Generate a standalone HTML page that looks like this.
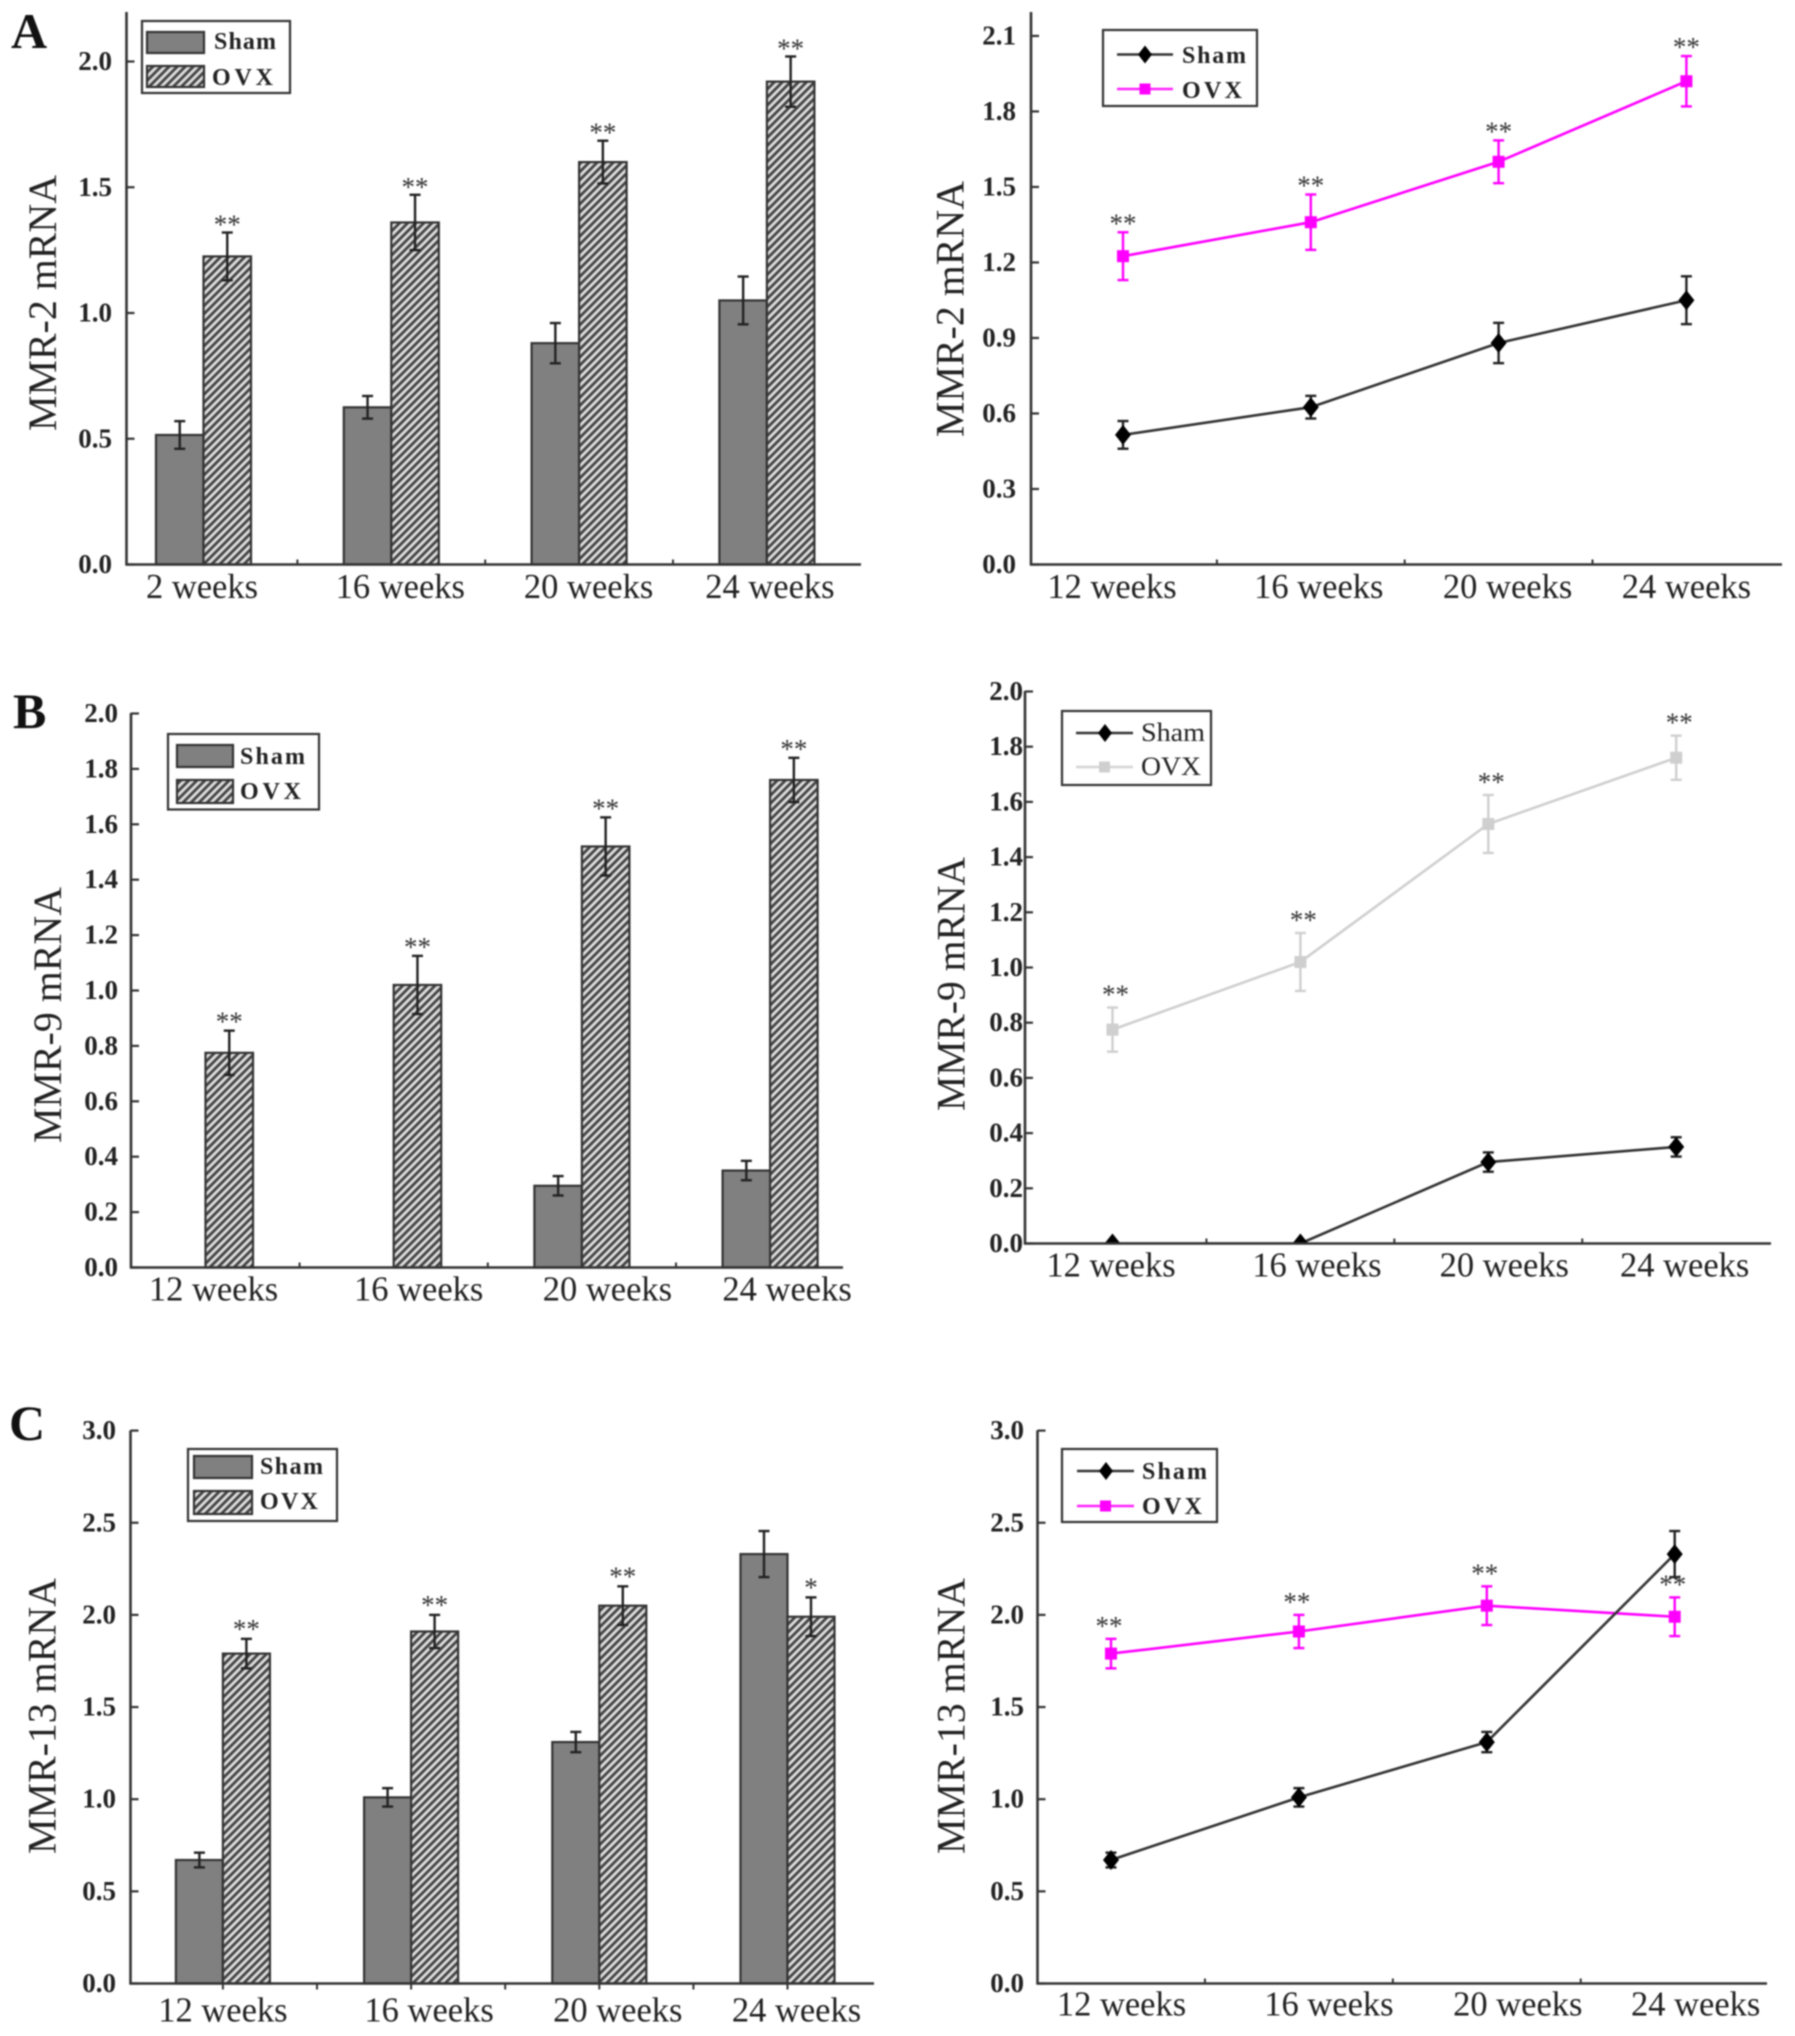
<!DOCTYPE html>
<html lang="en">
<head>
<meta charset="utf-8">
<title>MMR mRNA expression charts</title>
<style>
  html,body{margin:0;padding:0;background:#fff;}
  svg{display:block;filter:blur(0.8px);}
  text{font-family:"Liberation Serif",serif;fill:#222;}
  .panel-letter{font-size:50px;font-weight:bold;fill:#111;}
  .y-title{font-size:40px;text-anchor:middle;fill:#222;}
  .leg{font-size:24px;font-weight:bold;}
  .leg-light{font-size:26px;}
  .tick{font-size:27px;font-weight:bold;text-anchor:end;}
  .cat{font-size:34.5px;text-anchor:middle;}
  .star{font-size:27px;text-anchor:middle;fill:#333;}
</style>
</head>
<body>
<svg id="fig" xmlns="http://www.w3.org/2000/svg" width="1795" height="2036" viewBox="0 0 1795 2036">
  <defs>
    <pattern id="hatch" patternUnits="userSpaceOnUse" width="5.7" height="5.7" patternTransform="rotate(45)">
      <rect width="5.7" height="5.7" fill="#dcdcdc"/>
      <rect width="2.8" height="5.7" fill="#444"/>
    </pattern>
  </defs>
  <rect width="1795" height="2036" fill="#fff"/>

  <text class="panel-letter" x="11" y="48">A</text>
  <text class="panel-letter" x="13" y="728">B</text>
  <text class="panel-letter" x="9" y="1440">C</text>

  <text class="y-title" transform="translate(56,303) rotate(-90)" textLength="256" lengthAdjust="spacingAndGlyphs">MMR-2 mRNA</text>
  <text class="y-title" transform="translate(963.5,309) rotate(-90)" textLength="256" lengthAdjust="spacingAndGlyphs">MMR-2 mRNA</text>
  <text class="y-title" transform="translate(61,1015) rotate(-90)" textLength="256" lengthAdjust="spacingAndGlyphs">MMR-9 mRNA</text>
  <text class="y-title" transform="translate(964.6,984) rotate(-90)" textLength="254" lengthAdjust="spacingAndGlyphs">MMR-9 mRNA</text>
  <text class="y-title" transform="translate(55.7,1716) rotate(-90)" textLength="276" lengthAdjust="spacingAndGlyphs">MMR-13 mRNA</text>
  <text class="y-title" transform="translate(964.6,1716) rotate(-90)" textLength="276" lengthAdjust="spacingAndGlyphs">MMR-13 mRNA</text>

  <g id="panel-a-bar"></g>
  <g id="panel-a-line"></g>
  <g id="panel-b-bar"></g>
  <g id="panel-b-line"></g>
  <g id="panel-c-bar"></g>
  <g id="panel-c-line"></g>

  <!-- Legend A bar -->
  <g>
    <rect x="142" y="21" width="148" height="72" fill="#fff" stroke="#333" stroke-width="2.2"/>
    <rect x="147" y="32" width="57" height="21" fill="#808080" stroke="#333" stroke-width="2.2"/>
    <text class="leg" x="214" y="49" textLength="62" lengthAdjust="spacing">Sham</text>
    <rect x="147" y="66" width="57" height="21" fill="url(#hatch)" stroke="#333" stroke-width="2.2"/>
    <text class="leg" x="212" y="85" textLength="61" lengthAdjust="spacing">OVX</text>
  </g>
  <!-- Legend A line -->
  <g>
    <rect x="1103" y="30" width="154" height="76" fill="#fff" stroke="#333" stroke-width="2.2"/>
    <line x1="1117" x2="1173" y1="54.5" y2="54.5" stroke="#333" stroke-width="2.5"/>
    <polygon points="1145,45.5 1152,54.5 1145,63.5 1138,54.5" fill="#000"/>
    <text class="leg" x="1182" y="63" textLength="64" lengthAdjust="spacing">Sham</text>
    <line x1="1117" x2="1173" y1="89" y2="89" stroke="#ff22ff" stroke-width="2.5"/>
    <rect x="1139.5" y="83.5" width="11" height="11" fill="#ff00ff"/>
    <text class="leg" x="1182" y="98" textLength="60" lengthAdjust="spacing">OVX</text>
  </g>
  <!-- Legend B bar -->
  <g>
    <rect x="168" y="734" width="151" height="75.5" fill="#fff" stroke="#333" stroke-width="2.2"/>
    <rect x="177" y="745" width="56" height="22" fill="#808080" stroke="#333" stroke-width="2.2"/>
    <text class="leg" x="240" y="764" textLength="65" lengthAdjust="spacing">Sham</text>
    <rect x="177" y="780" width="56" height="23" fill="url(#hatch)" stroke="#333" stroke-width="2.2"/>
    <text class="leg" x="240" y="799" textLength="61" lengthAdjust="spacing">OVX</text>
  </g>
  <!-- Legend B line -->
  <g>
    <rect x="1062" y="711" width="149" height="74" fill="#fff" stroke="#333" stroke-width="2.2"/>
    <line x1="1076" x2="1133" y1="733" y2="733" stroke="#333" stroke-width="2.5"/>
    <polygon points="1105,724 1112,733 1105,742 1098,733" fill="#000"/>
    <text class="leg-light" x="1141" y="741" textLength="64" lengthAdjust="spacingAndGlyphs">Sham</text>
    <line x1="1076" x2="1133" y1="767" y2="767" stroke="#d4d4d4" stroke-width="2.5"/>
    <rect x="1099" y="761.5" width="11" height="11" fill="#cfcfcf"/>
    <text class="leg-light" x="1141" y="775" textLength="60" lengthAdjust="spacingAndGlyphs">OVX</text>
  </g>
  <!-- Legend C bar -->
  <g>
    <rect x="188" y="1449" width="149" height="72" fill="#fff" stroke="#333" stroke-width="2.2"/>
    <rect x="194" y="1456" width="58" height="22" fill="#808080" stroke="#333" stroke-width="2.2"/>
    <text class="leg" x="260" y="1474" textLength="63" lengthAdjust="spacing">Sham</text>
    <rect x="194" y="1491" width="58" height="23" fill="url(#hatch)" stroke="#333" stroke-width="2.2"/>
    <text class="leg" x="260" y="1509" textLength="58" lengthAdjust="spacing">OVX</text>
  </g>
  <!-- Legend C line -->
  <g>
    <rect x="1062" y="1449" width="155" height="73" fill="#fff" stroke="#333" stroke-width="2.2"/>
    <line x1="1077" x2="1134" y1="1471" y2="1471" stroke="#333" stroke-width="2.5"/>
    <polygon points="1106,1462 1113,1471 1106,1480 1099,1471" fill="#000"/>
    <text class="leg" x="1142" y="1479" textLength="65" lengthAdjust="spacing">Sham</text>
    <line x1="1077" x2="1134" y1="1506" y2="1506" stroke="#ff22ff" stroke-width="2.5"/>
    <rect x="1100" y="1500.5" width="11" height="11" fill="#ff00ff"/>
    <text class="leg" x="1142" y="1514" textLength="60" lengthAdjust="spacing">OVX</text>
  </g>
</svg>

<script>
// ---- chart data ----
const categoriesMmr2Bar = ['2 weeks', '16 weeks', '20 weeks', '24 weeks'];
const categories = ['12 weeks', '16 weeks', '20 weeks', '24 weeks'];

const mmr2Sham = [0.515, 0.625, 0.88, 1.05];
const mmr2Ovx = [1.225, 1.36, 1.60, 1.92];
const mmr2ShamErr = [0.055, 0.045, 0.08, 0.095];
const mmr2OvxErr = [0.095, 0.11, 0.085, 0.10];
const mmr2Stars = ['**', '**', '**', '**'];
const mmr2BarTicks = ['0.0', '0.5', '1.0', '1.5', '2.0'];
const mmr2LineTicks = ['0.0', '0.3', '0.6', '0.9', '1.2', '1.5', '1.8', '2.1'];

const mmr9Sham = [0, 0, 0.295, 0.35];
const mmr9Ovx = [0.775, 1.02, 1.52, 1.76];
const mmr9ShamErr = [0, 0, 0.035, 0.035];
const mmr9OvxErr = [0.08, 0.105, 0.105, 0.08];
const mmr9Stars = ['**', '**', '**', '**'];
const mmr9Ticks = ['0.0', '0.2', '0.4', '0.6', '0.8', '1.0', '1.2', '1.4', '1.6', '1.8', '2.0'];

const mmr13Sham = [0.67, 1.01, 1.31, 2.33];
const mmr13Ovx = [1.79, 1.91, 2.05, 1.99];
const mmr13ShamErr = [0.04, 0.05, 0.055, 0.125];
const mmr13OvxErr = [0.08, 0.09, 0.105, 0.105];
const mmr13BarStars = ['**', '**', '**', '*'];
const mmr13LineStars = ['**', '**', '**', '**'];
const mmr13Ticks = ['0.0', '0.5', '1.0', '1.5', '2.0', '2.5', '3.0'];

// ---- drawing ----
const NS = 'http://www.w3.org/2000/svg';
function make(tag, attrs, parent) {
  const el = document.createElementNS(NS, tag);
  for (const k in attrs) el.setAttribute(k, attrs[k]);
  parent.appendChild(el);
  return el;
}

function axes(g, p, ticks, cats) {
  const y = v => p.base - v * p.unit;
  let el = make('line', {x1: p.left, x2: p.left, y1: p.top, y2: p.base + 1, stroke: '#333', 'stroke-width': 2.6}, g);
  
  
  el = make('line', {x1: p.left - 1, x2: p.right, y1: p.base, y2: p.base, stroke: '#333', 'stroke-width': 2.6}, g);
  
  
  ticks.forEach(t => {
    const v = parseFloat(t);
    let el = make('line', {x1: p.left, x2: p.left + 8, y1: y(v), y2: y(v), stroke: '#333', 'stroke-width': 2.2}, g);
    
    
    el = make('text', {class: 'tick', x: p.tickRight, y: y(v) + 8.5}, g);
    
    
    el.textContent = t;
  });
  cats.forEach((c, i) => {
    const cx = p.c0 + p.step * i;
    const tx = cx + p.step / 2;
    if (i < cats.length - 1) {
      let el = make('line', {x1: tx, x2: tx, y1: p.base, y2: p.base + p.tickLen, stroke: '#333', 'stroke-width': 2}, g);
      
      
    }
    if (p.centerTicks) {
      let el = make('line', {x1: cx, x2: cx, y1: p.base, y2: p.base + p.tickLen, stroke: '#333', 'stroke-width': 2}, g);
      
      
    }
    const lab = make('text', {class: 'cat', x: cx + p.labelShift[i], y: p.labelY}, g);
    
    
    lab.textContent = c;
  });
}

function errorBar(g, x, v, e, y, color, w, cap) {
  if (e <= 0) return;
  const group = make('g', {stroke: color, 'stroke-width': w}, g);
  
  
  make('line', {x1: x, x2: x, y1: y(v + e), y2: y(v - e)}, group);
  make('line', {x1: x - cap, x2: x + cap, y1: y(v + e), y2: y(v + e)}, group);
  make('line', {x1: x - cap, x2: x + cap, y1: y(v - e), y2: y(v - e)}, group);
}

function star(g, x, topValue, label, p, y) {
  const el = make('text', {class: 'star', x: x, y: y(topValue) - p.starGap + 13}, g);
  
  
  el.textContent = label;
}

function barChart(id, p, cats, ticks, sham, ovx, shamErr, ovxErr, stars) {
  const g = document.getElementById(id);
  const y = v => p.base - v * p.unit;
  const bw = p.barW;
  cats.forEach((c, i) => {
    const cx = p.c0 + p.step * i;
    if (sham[i] > 0) {
      const el = make('rect', {x: cx - bw, y: y(sham[i]), width: bw, height: p.base - y(sham[i]), fill: '#808080', stroke: '#333', 'stroke-width': 2.2}, g);
      
      
    }
    const el = make('rect', {x: cx, y: y(ovx[i]), width: bw, height: p.base - y(ovx[i]), fill: 'url(#hatch)', stroke: '#333', 'stroke-width': 2.2}, g);
    
    
  });
  cats.forEach((c, i) => {
    const cx = p.c0 + p.step * i;
    errorBar(g, cx - bw / 2, sham[i], shamErr[i], y, '#222', 2.4, 5.5);
    errorBar(g, cx + bw / 2, ovx[i], ovxErr[i], y, '#222', 2.4, 5.5);
    star(g, cx + bw / 2, ovx[i] + ovxErr[i], stars[i], p, y);
  });
  axes(g, p, ticks, cats);
}

function lineChart(id, p, cats, ticks, sham, ovx, shamErr, ovxErr, stars, ovxColor) {
  const g = document.getElementById(id);
  const y = v => p.base - v * p.unit;
  const x = i => p.c0 + p.step * i;
  const clip = make('clipPath', {id: id + '-clip'}, g);
  make('rect', {x: 0, y: 0, width: 1795, height: p.base + 1}, clip);
  const marks = make('g', {'clip-path': 'url(#' + id + '-clip)'}, g);
  
  

  let el = make('polyline', {points: ovx.map((v, i) => x(i) + ',' + y(v)).join(' '), fill: 'none', stroke: ovxColor, 'stroke-width': 2.6}, marks);
  
  
  ovx.forEach((v, i) => {
    errorBar(marks, x(i), v, ovxErr[i], y, ovxColor, 2.4, 5.5);
    const m = make('rect', {x: x(i) - 6, y: y(v) - 6, width: 12, height: 12, fill: ovxColor}, marks);
    
    
    star(g, x(i) + p.starShift, v + ovxErr[i], stars[i], p, y);
  });

  el = make('polyline', {points: sham.map((v, i) => x(i) + ',' + y(v)).join(' '), fill: 'none', stroke: '#333', 'stroke-width': 2.6}, marks);
  
  
  sham.forEach((v, i) => {
    errorBar(marks, x(i), v, shamErr[i], y, '#222', 2.4, 5.5);
    const d = make('polygon', {points: [[0, -10], [8, 0], [0, 10], [-8, 0]].map(o => (x(i) + o[0]) + ',' + (y(v) + o[1])).join(' '), fill: '#000'}, marks);
    
    
  });
  axes(g, p, ticks, cats);
}

barChart('panel-a-bar',
  {left: 126.5, right: 861, top: 12, base: 564.5, unit: 251.5, c0: 203.5, step: 187.8, barW: 47.5, tickRight: 112, tickLen: -5, labelY: 598, labelShift: [-1.5, 9, 9.5, 3], starGap: 12},
  categoriesMmr2Bar, mmr2BarTicks, mmr2Sham, mmr2Ovx, mmr2ShamErr, mmr2OvxErr, mmr2Stars);

lineChart('panel-a-line',
  {left: 1031, right: 1782, top: 12, base: 564.5, unit: 251.7, c0: 1123, step: 187.8, tickRight: 1016, tickLen: -5, labelY: 598, labelShift: [-11, 8, 9, 0], starGap: 13, starShift: 0},
  categories, mmr2LineTicks, mmr2Sham, mmr2Ovx, mmr2ShamErr, mmr2OvxErr, mmr2Stars, '#ff00ff');

barChart('panel-b-bar',
  {left: 131, right: 843, top: 713, base: 1267.5, unit: 277, c0: 205.5, step: 188.2, barW: 47.5, tickRight: 118, tickLen: -5, labelY: 1300.5, labelShift: [8, 25, 25.5, 17], starGap: 13},
  categories, mmr9Ticks, mmr9Sham, mmr9Ovx, mmr9ShamErr, mmr9OvxErr, mmr9Stars);

lineChart('panel-b-line',
  {left: 1025, right: 1771, top: 691, base: 1243.5, unit: 276, c0: 1112.5, step: 187.9, tickRight: 1023, tickLen: -5, labelY: 1276.5, labelShift: [-1.5, 16.5, 16, 8.5], starGap: 17, starShift: 3},
  categories, mmr9Ticks, mmr9Sham, mmr9Ovx, mmr9ShamErr, mmr9OvxErr, mmr9Stars, '#cfcfcf');

barChart('panel-c-bar',
  {left: 130.5, right: 874, top: 1430.4, base: 1983.5, unit: 184.3, c0: 222.9, step: 188.2, barW: 47, tickRight: 116, tickLen: 6, centerTicks: true, labelY: 2021.5, labelShift: [0, 18, 18.5, 9], starGap: 14},
  categories, mmr13Ticks, mmr13Sham, mmr13Ovx, mmr13ShamErr, mmr13OvxErr, mmr13BarStars);

lineChart('panel-c-line',
  {left: 1037.5, right: 1767, top: 1430.4, base: 1983.5, unit: 184.3, c0: 1111, step: 187.9, tickRight: 1024, tickLen: -5, labelY: 2015.5, labelShift: [10.5, 30, 31, 21], starGap: 17, starShift: -2},
  categories, mmr13Ticks, mmr13Sham, mmr13Ovx, mmr13ShamErr, mmr13OvxErr, mmr13LineStars, '#ff00ff');
</script>
</body>
</html>
